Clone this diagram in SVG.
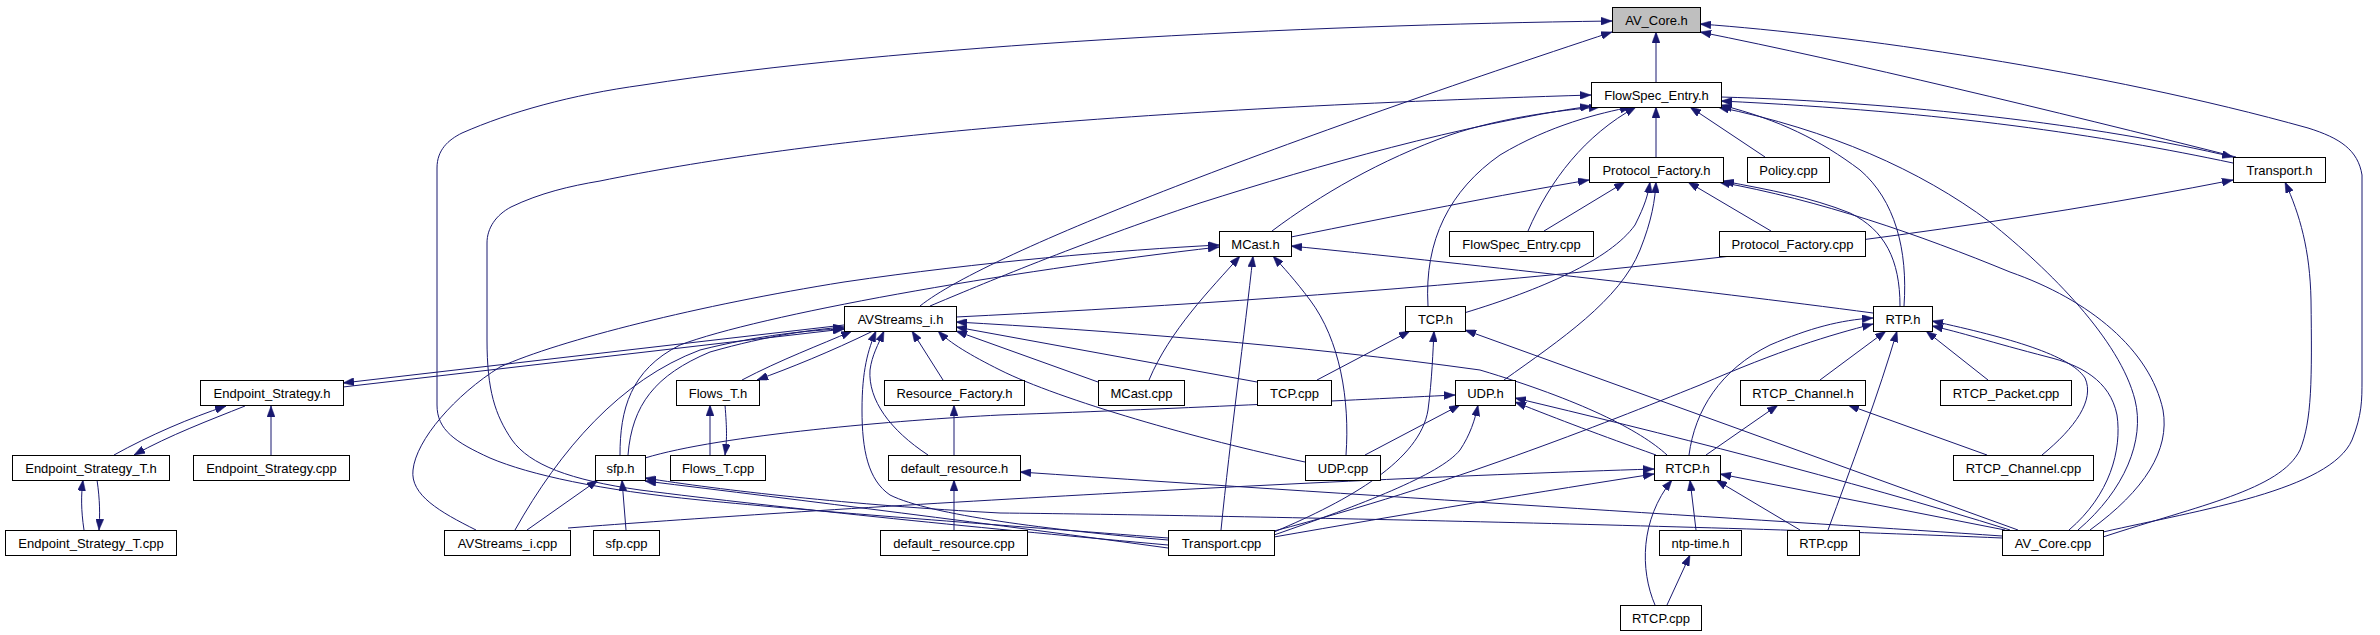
<svg xmlns="http://www.w3.org/2000/svg" width="2380" height="635" viewBox="0 0 2380 635">
<defs>
<style>
.node rect{fill:#ffffff;stroke:#000000;stroke-width:1}
.node.root rect{fill:#bfbfbf}
.node text{font-family:"Liberation Sans",Arial,sans-serif;font-size:13px;fill:#000000;text-anchor:middle}
.edges path{fill:none;stroke:#191970;stroke-width:1;marker-end:url(#ah)}
</style>
<marker id="ah" viewBox="0 0 11 8" refX="11" refY="4" markerWidth="11" markerHeight="8" markerUnits="userSpaceOnUse" orient="auto">
<path d="M0,0 L11,4 L0,8 z" fill="#191970" stroke="#191970" stroke-width="0.5"/>
</marker>
</defs>
<rect x="0" y="0" width="2380" height="635" fill="#ffffff"/>
<g id="edges" class="edges">
<path d="M1656,82 L1656,32"/>
<path d="M920,306 C990,250 1300,135 1612,32"/>
<path d="M930,306 C980,285 1080,243 1200,203 C1320,165 1460,125 1591,106"/>
<path d="M2236,157 C2050,110 1850,62 1700,32"/>
<path d="M2103,532 C2200,510 2330,490 2352,440 C2362,415 2362,400 2362,380 L2362,175 C2358,150 2340,138 2308,128 C2100,70 1850,35 1700,24"/>
<path d="M2103,537 C2200,505 2280,490 2300,450 C2312,420 2312,380 2311,300 C2310,250 2300,215 2285,182"/>
<path d="M1168,538 C1000,525 820,512 700,500 C600,490 530,475 490,458 C455,442 437,430 437,405 L437,168 C437,150 448,140 462,133 C510,112 570,95 643,85 C900,45 1300,25 1612,21"/>
<path d="M1168,545 C1000,530 780,508 640,490 C570,480 530,465 512,440 C495,415 487,390 487,340 L487,243 C487,228 496,215 511,207 C540,193 570,186 600,181 C800,140 1100,110 1591,95"/>
<path d="M1656,157 L1656,107"/>
<path d="M1272,231 C1320,195 1380,160 1450,135 C1500,118 1560,110 1600,107"/>
<path d="M1428,306 C1424,240 1450,190 1500,155 C1550,125 1600,113 1631,107"/>
<path d="M1528,231 C1550,180 1585,135 1636,107"/>
<path d="M1765,157 L1690,107"/>
<path d="M2233,163 C2100,135 1950,112 1721,101"/>
<path d="M1721,97 C1900,102 2100,125 2233,157"/>
<path d="M1904,306 C1908,250 1895,200 1860,170 C1820,140 1780,120 1721,105"/>
<path d="M2078,530 C2125,490 2145,440 2135,400 C2120,340 2050,270 1990,222 C1920,170 1830,130 1718,107"/>
<path d="M1771,231 L1688,182"/>
<path d="M1544,231 L1625,182"/>
<path d="M1291,237 C1400,215 1500,195 1589,180"/>
<path d="M1464,313 C1540,290 1610,260 1635,225 C1645,205 1648,195 1650,182"/>
<path d="M1504,380 C1560,340 1620,300 1640,250 C1652,220 1655,200 1656,182"/>
<path d="M1900,306 C1900,260 1885,230 1850,213 C1810,197 1770,190 1723,181"/>
<path d="M2090,530 C2145,490 2170,450 2163,410 C2150,350 2090,300 2010,272 C1920,235 1820,200 1719,182"/>
<path d="M1873,313 C1700,290 1450,262 1291,246"/>
<path d="M476,530 C440,512 410,495 413,470 C416,440 455,395 500,367 C560,340 700,305 844,282 C980,262 1120,250 1219,245"/>
<path d="M620,455 C620,410 630,370 680,345 C760,315 1000,272 1219,247"/>
<path d="M628,455 C632,405 655,375 710,352 C770,335 810,330 844,327"/>
<path d="M844,325 L343,383"/>
<path d="M343,387 L844,329"/>
<path d="M742,380 C780,360 820,345 852,331"/>
<path d="M873,331 C830,352 790,368 757,380"/>
<path d="M710,455 L710,405"/>
<path d="M725,405 C727,430 727,440 725,455"/>
<path d="M954,455 L954,405"/>
<path d="M954,530 L954,480"/>
<path d="M943,380 L912,331"/>
<path d="M928,455 C890,430 868,400 870,370 C872,355 878,345 884,331"/>
<path d="M1168,540 C1050,530 930,515 890,495 C868,480 862,450 862,410 C862,370 868,350 876,331"/>
<path d="M1305,462 C1200,440 1060,400 1000,370 C970,355 950,343 938,331"/>
<path d="M1098,382 L956,331"/>
<path d="M1257,382 L956,327"/>
<path d="M1667,455 C1640,430 1580,400 1480,370 C1300,345 1100,330 956,322"/>
<path d="M956,317 C1300,300 1800,265 2233,180"/>
<path d="M515,530 C560,450 620,380 700,350 C760,335 810,330 844,329"/>
<path d="M527,530 L598,480"/>
<path d="M568,528 C800,510 1300,480 1654,469"/>
<path d="M626,530 L622,480"/>
<path d="M1168,548 C1000,525 800,500 645,481"/>
<path d="M2002,538 C1700,525 1200,515 1000,513 C850,505 720,490 645,478"/>
<path d="M645,458 C720,435 900,420 1000,415 C1200,408 1350,400 1455,395"/>
<path d="M2002,536 C1800,522 1400,498 1020,472"/>
<path d="M1149,380 C1170,330 1210,290 1240,256"/>
<path d="M1221,530 C1230,440 1245,330 1253,256"/>
<path d="M1346,455 C1350,400 1340,340 1310,300 C1295,280 1283,267 1273,256"/>
<path d="M1317,380 L1410,331"/>
<path d="M1274,532 C1350,500 1420,460 1428,410 C1432,380 1433,350 1434,331"/>
<path d="M1365,455 L1460,405"/>
<path d="M1274,535 C1360,505 1440,475 1460,450 C1470,435 1475,420 1478,405"/>
<path d="M1274,537 C1400,515 1550,490 1654,474"/>
<path d="M1274,531 C1450,485 1600,425 1700,385 C1780,350 1830,335 1873,324"/>
<path d="M1689,455 C1695,410 1720,370 1770,345 C1810,328 1840,320 1873,318"/>
<path d="M1820,380 L1886,331"/>
<path d="M1828,530 C1850,470 1880,390 1897,331"/>
<path d="M1988,380 L1926,331"/>
<path d="M2042,455 C2075,428 2095,400 2085,378 C2070,355 2010,338 1932,321"/>
<path d="M2069,530 C2110,495 2122,450 2117,415 C2110,380 2080,365 2048,357 C1990,342 1960,332 1932,326"/>
<path d="M1987,455 L1848,405"/>
<path d="M1706,455 L1778,405"/>
<path d="M1656,455 C1600,435 1560,420 1515,402"/>
<path d="M2010,530 C1850,480 1650,430 1515,398"/>
<path d="M2018,530 L1465,330"/>
<path d="M2005,530 L1720,474"/>
<path d="M1800,530 L1716,480"/>
<path d="M1696,530 L1690,480"/>
<path d="M1667,605 L1690,555"/>
<path d="M1655,605 C1640,570 1640,520 1672,480"/>
<path d="M114,455 C150,435 190,418 226,406"/>
<path d="M245,406 C210,420 170,435 134,455"/>
<path d="M271,455 L271,406"/>
<path d="M84,530 C81,510 81,495 83,480"/>
<path d="M97,480 C100,500 100,515 99,530"/>
</g>
<g id="n_AV_Core_h" class="node root"><rect x="1612.5" y="7.5" width="88" height="25"/><text x="1656.5" y="25">AV_Core.h</text></g>
<g id="n_FlowSpec_Entry_h" class="node"><rect x="1591.5" y="82.5" width="130" height="25"/><text x="1656.5" y="100">FlowSpec_Entry.h</text></g>
<g id="n_Protocol_Factory_h" class="node"><rect x="1589.5" y="157.5" width="134" height="25"/><text x="1656.5" y="175">Protocol_Factory.h</text></g>
<g id="n_Policy_cpp" class="node"><rect x="1747.5" y="157.5" width="82" height="25"/><text x="1788.5" y="175">Policy.cpp</text></g>
<g id="n_Transport_h" class="node"><rect x="2233.5" y="157.5" width="92" height="25"/><text x="2279.5" y="175">Transport.h</text></g>
<g id="n_MCast_h" class="node"><rect x="1219.5" y="231.5" width="72" height="25"/><text x="1255.5" y="249">MCast.h</text></g>
<g id="n_FlowSpec_Entry_cpp" class="node"><rect x="1449.5" y="231.5" width="144" height="25"/><text x="1521.5" y="249">FlowSpec_Entry.cpp</text></g>
<g id="n_Protocol_Factory_cpp" class="node"><rect x="1719.5" y="231.5" width="146" height="25"/><text x="1792.5" y="249">Protocol_Factory.cpp</text></g>
<g id="n_AVStreams_i_h" class="node"><rect x="844.5" y="306.5" width="112" height="25"/><text x="900.5" y="324">AVStreams_i.h</text></g>
<g id="n_TCP_h" class="node"><rect x="1405.5" y="306.5" width="60" height="25"/><text x="1435.5" y="324">TCP.h</text></g>
<g id="n_RTP_h" class="node"><rect x="1873.5" y="306.5" width="59" height="25"/><text x="1903" y="324">RTP.h</text></g>
<g id="n_Endpoint_Strategy_h" class="node"><rect x="200.5" y="380.5" width="143" height="25"/><text x="272" y="398">Endpoint_Strategy.h</text></g>
<g id="n_Flows_T_h" class="node"><rect x="676.5" y="380.5" width="83" height="25"/><text x="718" y="398">Flows_T.h</text></g>
<g id="n_Resource_Factory_h" class="node"><rect x="884.5" y="380.5" width="140" height="25"/><text x="954.5" y="398">Resource_Factory.h</text></g>
<g id="n_MCast_cpp" class="node"><rect x="1098.5" y="380.5" width="86" height="25"/><text x="1141.5" y="398">MCast.cpp</text></g>
<g id="n_TCP_cpp" class="node"><rect x="1257.5" y="380.5" width="74" height="25"/><text x="1294.5" y="398">TCP.cpp</text></g>
<g id="n_UDP_h" class="node"><rect x="1455.5" y="380.5" width="60" height="25"/><text x="1485.5" y="398">UDP.h</text></g>
<g id="n_RTCP_Channel_h" class="node"><rect x="1740.5" y="380.5" width="125" height="25"/><text x="1803" y="398">RTCP_Channel.h</text></g>
<g id="n_RTCP_Packet_cpp" class="node"><rect x="1940.5" y="380.5" width="131" height="25"/><text x="2006" y="398">RTCP_Packet.cpp</text></g>
<g id="n_Endpoint_Strategy_T_h" class="node"><rect x="12.5" y="455.5" width="157" height="25"/><text x="91" y="473">Endpoint_Strategy_T.h</text></g>
<g id="n_Endpoint_Strategy_cpp" class="node"><rect x="193.5" y="455.5" width="156" height="25"/><text x="271.5" y="473">Endpoint_Strategy.cpp</text></g>
<g id="n_sfp_h" class="node"><rect x="595.5" y="455.5" width="50" height="25"/><text x="620.5" y="473">sfp.h</text></g>
<g id="n_Flows_T_cpp" class="node"><rect x="670.5" y="455.5" width="95" height="25"/><text x="718" y="473">Flows_T.cpp</text></g>
<g id="n_default_resource_h" class="node"><rect x="888.5" y="455.5" width="132" height="25"/><text x="954.5" y="473">default_resource.h</text></g>
<g id="n_UDP_cpp" class="node"><rect x="1305.5" y="455.5" width="75" height="25"/><text x="1343" y="473">UDP.cpp</text></g>
<g id="n_RTCP_h" class="node"><rect x="1654.5" y="455.5" width="66" height="25"/><text x="1687.5" y="473">RTCP.h</text></g>
<g id="n_RTCP_Channel_cpp" class="node"><rect x="1953.5" y="455.5" width="140" height="25"/><text x="2023.5" y="473">RTCP_Channel.cpp</text></g>
<g id="n_Endpoint_Strategy_T_cpp" class="node"><rect x="5.5" y="530.5" width="171" height="25"/><text x="91" y="548">Endpoint_Strategy_T.cpp</text></g>
<g id="n_AVStreams_i_cpp" class="node"><rect x="444.5" y="530.5" width="126" height="25"/><text x="507.5" y="548">AVStreams_i.cpp</text></g>
<g id="n_sfp_cpp" class="node"><rect x="593.5" y="530.5" width="66" height="25"/><text x="626.5" y="548">sfp.cpp</text></g>
<g id="n_default_resource_cpp" class="node"><rect x="880.5" y="530.5" width="147" height="25"/><text x="954" y="548">default_resource.cpp</text></g>
<g id="n_Transport_cpp" class="node"><rect x="1168.5" y="530.5" width="106" height="25"/><text x="1221.5" y="548">Transport.cpp</text></g>
<g id="n_ntp_time_h" class="node"><rect x="1659.5" y="530.5" width="82" height="25"/><text x="1700.5" y="548">ntp-time.h</text></g>
<g id="n_RTP_cpp" class="node"><rect x="1787.5" y="530.5" width="72" height="25"/><text x="1823.5" y="548">RTP.cpp</text></g>
<g id="n_AV_Core_cpp" class="node"><rect x="2002.5" y="530.5" width="101" height="25"/><text x="2053" y="548">AV_Core.cpp</text></g>
<g id="n_RTCP_cpp" class="node"><rect x="1620.5" y="605.5" width="81" height="25"/><text x="1661" y="623">RTCP.cpp</text></g>
</svg>
